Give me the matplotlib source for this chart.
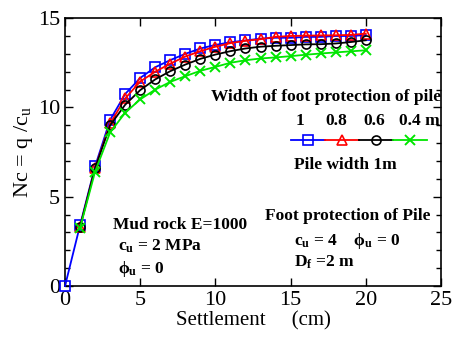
import matplotlib
matplotlib.use("Agg")
import matplotlib.pyplot as plt
from matplotlib.ticker import MultipleLocator

plt.rcParams["font.family"] = ["Liberation Serif", "DejaVu Serif"]
plt.rcParams["mathtext.fontset"] = "custom"
plt.rcParams["mathtext.rm"] = "Liberation Serif"
plt.rcParams["mathtext.bf"] = "Liberation Serif:bold"
plt.rcParams["mathtext.it"] = "Liberation Serif:italic"

# settlement (cm) and Nc for each foot-protection width
settle = list(range(0, 21))
settle_rest = list(range(1, 21))
nc_1m = [0, 3.4, 6.7, 9.3, 10.75, 11.65, 12.25, 12.65, 13.0, 13.3, 13.5,
         13.65, 13.75, 13.85, 13.9, 13.9, 13.95, 13.95, 14.0, 14.0, 14.05]
nc_08 = [3.3, 6.6, 9.1, 10.5, 11.45, 12.0, 12.45, 12.85, 13.15, 13.4,
         13.6, 13.73, 13.82, 13.95, 14.0, 14.02, 14.03, 14.04, 14.06, 14.13]
nc_06 = [3.3, 6.6, 9.0, 10.15, 10.97, 11.57, 12.03, 12.4, 12.72, 12.96,
         13.15, 13.3, 13.4, 13.45, 13.49, 13.53, 13.54, 13.58, 13.66, 13.76]
nc_04 = [3.25, 6.4, 8.6, 9.7, 10.45, 11.0, 11.43, 11.75, 12.05, 12.27,
         12.5, 12.64, 12.74, 12.8, 12.87, 12.95, 13.02, 13.08, 13.14, 13.2]
widths = ["1", "0.8", "0.6", "0.4 m"]
width_pos = [0.625, 0.722, 0.822, 0.942]

fig = plt.figure(figsize=(4.53, 3.42), dpi=100)
ax = fig.add_axes([0.1435, 0.1637, 0.83, 0.7833])

lw = 1.3
h1, = ax.plot(settle, nc_1m, "-s", color="blue", mfc="none", ms=6.5, lw=lw, mew=1.2, clip_on=False, zorder=3)
h2, = ax.plot(settle_rest, nc_08, "-^", color="red", mfc="none", ms=7, lw=lw, mew=1.2, zorder=3)
h3, = ax.plot(settle_rest, nc_06, "-o", color="black", mfc="none", ms=6.5, lw=lw, mew=1.2, zorder=3)
h4, = ax.plot(settle_rest, nc_04, "-x", color="#00e600", ms=7, lw=lw, mew=1.4, zorder=3)

ax.set_xlim(0, 25)
ax.set_ylim(0, 15)
ax.xaxis.set_major_locator(MultipleLocator(5))
ax.yaxis.set_major_locator(MultipleLocator(5))
ax.yaxis.set_minor_locator(MultipleLocator(1))
ax.tick_params(which="both", direction="in", top=True, right=True, labelsize=16)
ax.tick_params(which="major", length=6, width=1)
ax.tick_params(which="minor", length=3.5, width=1)
for s in ax.spines.values():
    s.set_linewidth(1.2)

ax.set_xlabel("Settlement \u3000(cm)", fontsize=15, family=["Liberation Serif", "Noto Sans CJK SC"], labelpad=1)
ax.set_ylabel("Nc = q /c$_\\mathrm{u}$", fontsize=16, labelpad=2)

fs = 12.5
# legend block
ax.text(1.0, 0.706, "Width of foot protection of pile", transform=ax.transAxes,
        ha="right", va="center", fontsize=fs, fontweight="bold")
for w, xp in zip(widths, width_pos):
    ax.text(xp, 0.615, w, transform=ax.transAxes,
            ha="center", va="center", fontsize=fs, fontweight="bold")
leg = ax.legend([h1, h2, h3, h4], ["", "", "", ""], ncol=4, frameon=False,
                handlelength=2.45, handletextpad=0, columnspacing=0,
                borderpad=0, borderaxespad=0, bbox_to_anchor=(0.601, 0.54), loc="center left")
ax.text(0.745, 0.45, "Pile width 1m", transform=ax.transAxes,
        ha="center", va="center", fontsize=fs, fontweight="bold")

# soil notes
ax.text(0.127, 0.227, "Mud rock E=1000", transform=ax.transAxes,
        ha="left", va="center", fontsize=fs, fontweight="bold")
ax.text(0.14, 0.148, "c$_\\mathbf{u}$ = 2 MPa", transform=ax.transAxes,
        ha="left", va="center", fontsize=fs, fontweight="bold")
ax.text(0.14, 0.062, "\u03d5$_\\mathbf{u}$ = 0", transform=ax.transAxes,
        ha="left", va="center", fontsize=fs, fontweight="bold")
ax.text(0.532, 0.26, "Foot protection of Pile", transform=ax.transAxes,
        ha="left", va="center", fontsize=fs, fontweight="bold")
ax.text(0.61, 0.168, "c$_\\mathbf{u}$ = 4    \u03d5$_\\mathbf{u}$ = 0", transform=ax.transAxes,
        ha="left", va="center", fontsize=fs, fontweight="bold")
ax.text(0.61, 0.088, "D$_\\mathbf{f}$ =2 m", transform=ax.transAxes,
        ha="left", va="center", fontsize=fs, fontweight="bold")

fig.savefig("out.png", dpi=100)
